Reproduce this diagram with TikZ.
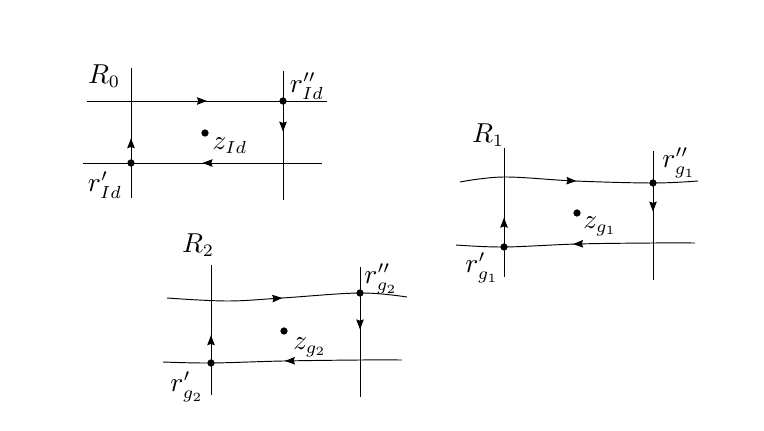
\documentclass[tikz,border=0pt]{standalone}
\usepackage{amsmath,amssymb}
\usepackage{tikz}
\usetikzlibrary{arrows.meta,decorations.markings}

\tikzset{
  flow/.style={postaction={decorate},
    decoration={markings,mark=at position #1 with {\arrow{Stealth[length=4pt,width=3pt,inset=0.5pt]}}}},
  flow/.default=0.5,
  pt/.style={circle,fill=black,inner sep=0pt,minimum size=2.9pt},
  lbl/.style={inner sep=0pt,font=\fontsize{10.6}{13}\selectfont}
}

\begin{document}
\begin{tikzpicture}[x=0.4pt,y=-0.4pt,line width=0.38pt]
  \useasboundingbox (0,0) rectangle (764,431);

  % region R_0 (straight sides)
  \coordinate (tl0) at (87,101);  \coordinate (tr0) at (327,101);
  \coordinate (bl0) at (83,163);  \coordinate (br0) at (322,163);
  \coordinate (lt0) at (131,68);  \coordinate (lb0) at (131,198);
  \coordinate (rt0) at (283,71);  \coordinate (rb0) at (283,200);
  \draw[flow] (tl0) -- (tr0);
  \draw[flow=0.47] (rt0) -- (rb0);
  \draw[flow] (br0) -- (bl0);
  \draw[flow=0.46] (lb0) -- (lt0);
  \node[pt] (rpp0) at (283,101) {};
  \node[pt] (rp0) at (131,163) {};
  \node[pt] (z0) at (205,133) {};
  \node[lbl] (R0) at (104,76) {$R_0$};
  \node[lbl] (lrpp0) at (307,86) {$r''_{Id}$};
  \node[lbl] (lrp0) at (105,185) {$r'_{Id}$};
  \node[lbl] (lz0) at (230,146) {$z_{Id}$};

  % region R_1
  \coordinate (a1) at (460,182);  \coordinate (b1) at (504,177);
  \coordinate (c1) at (575,181);  \coordinate (d1) at (653,183);
  \coordinate (e1) at (698,181);
  \coordinate (f1) at (695,243);  \coordinate (g1) at (653,243);
  \coordinate (h1) at (577,244);  \coordinate (i1) at (504,247);
  \coordinate (j1) at (456,245);
  \coordinate (lt1) at (504,148); \coordinate (lb1) at (504,277);
  \coordinate (rt1) at (653,151); \coordinate (rb1) at (653,280);
  \draw[flow=0.49] plot[smooth,tension=0.6] coordinates {(a1) (b1) (c1) (d1) (e1)};
  \draw[flow=0.51] plot[smooth,tension=0.6] coordinates {(f1) (g1) (h1) (i1) (j1)};
  \draw[flow=0.47] (rt1) -- (rb1);
  \draw[flow=0.46] (lb1) -- (lt1);
  \node[pt] (rpp1) at (d1) {};
  \node[pt] (rp1) at (i1) {};
  \node[pt] (z1) at (577,213) {};
  \node[lbl] (R1) at (488,135) {$R_1$};
  \node[lbl] (lrpp1) at (679,163) {$r''_{g_1}$};
  \node[lbl] (lrp1) at (482,268) {$r'_{g_1}$};
  \node[lbl] (lz1) at (600,226) {$z_{g_1}$};

  % region R_2
  \coordinate (a2) at (167,298);  \coordinate (b2) at (227,301);
  \coordinate (c2) at (282,298);  \coordinate (d2) at (360,293);
  \coordinate (e2) at (407,297);
  \coordinate (f2) at (402,360);  \coordinate (g2) at (360,360);
  \coordinate (h2) at (283,361);  \coordinate (i2) at (211,363);
  \coordinate (j2) at (163,362);
  \coordinate (lt2) at (211,265); \coordinate (lb2) at (211,395);
  \coordinate (rt2) at (360,267); \coordinate (rb2) at (360,397);
  \draw[flow=0.48] plot[smooth,tension=0.6] coordinates {(a2) (b2) (c2) (d2) (e2)};
  \draw[flow=0.49] plot[smooth,tension=0.6] coordinates {(f2) (g2) (h2) (i2) (j2)};
  \draw[flow=0.48] (rt2) -- (rb2);
  \draw[flow=0.46] (lb2) -- (lt2);
  \node[pt] (rpp2) at (d2) {};
  \node[pt] (rp2) at (i2) {};
  \node[pt] (z2) at (284,331) {};
  \node[lbl] (R2) at (198,245) {$R_2$};
  \node[lbl] (lrpp2) at (381,279) {$r''_{g_2}$};
  \node[lbl] (lrp2) at (187,387) {$r'_{g_2}$};
  \node[lbl] (lz2) at (310,347) {$z_{g_2}$};
\end{tikzpicture}
\end{document}
